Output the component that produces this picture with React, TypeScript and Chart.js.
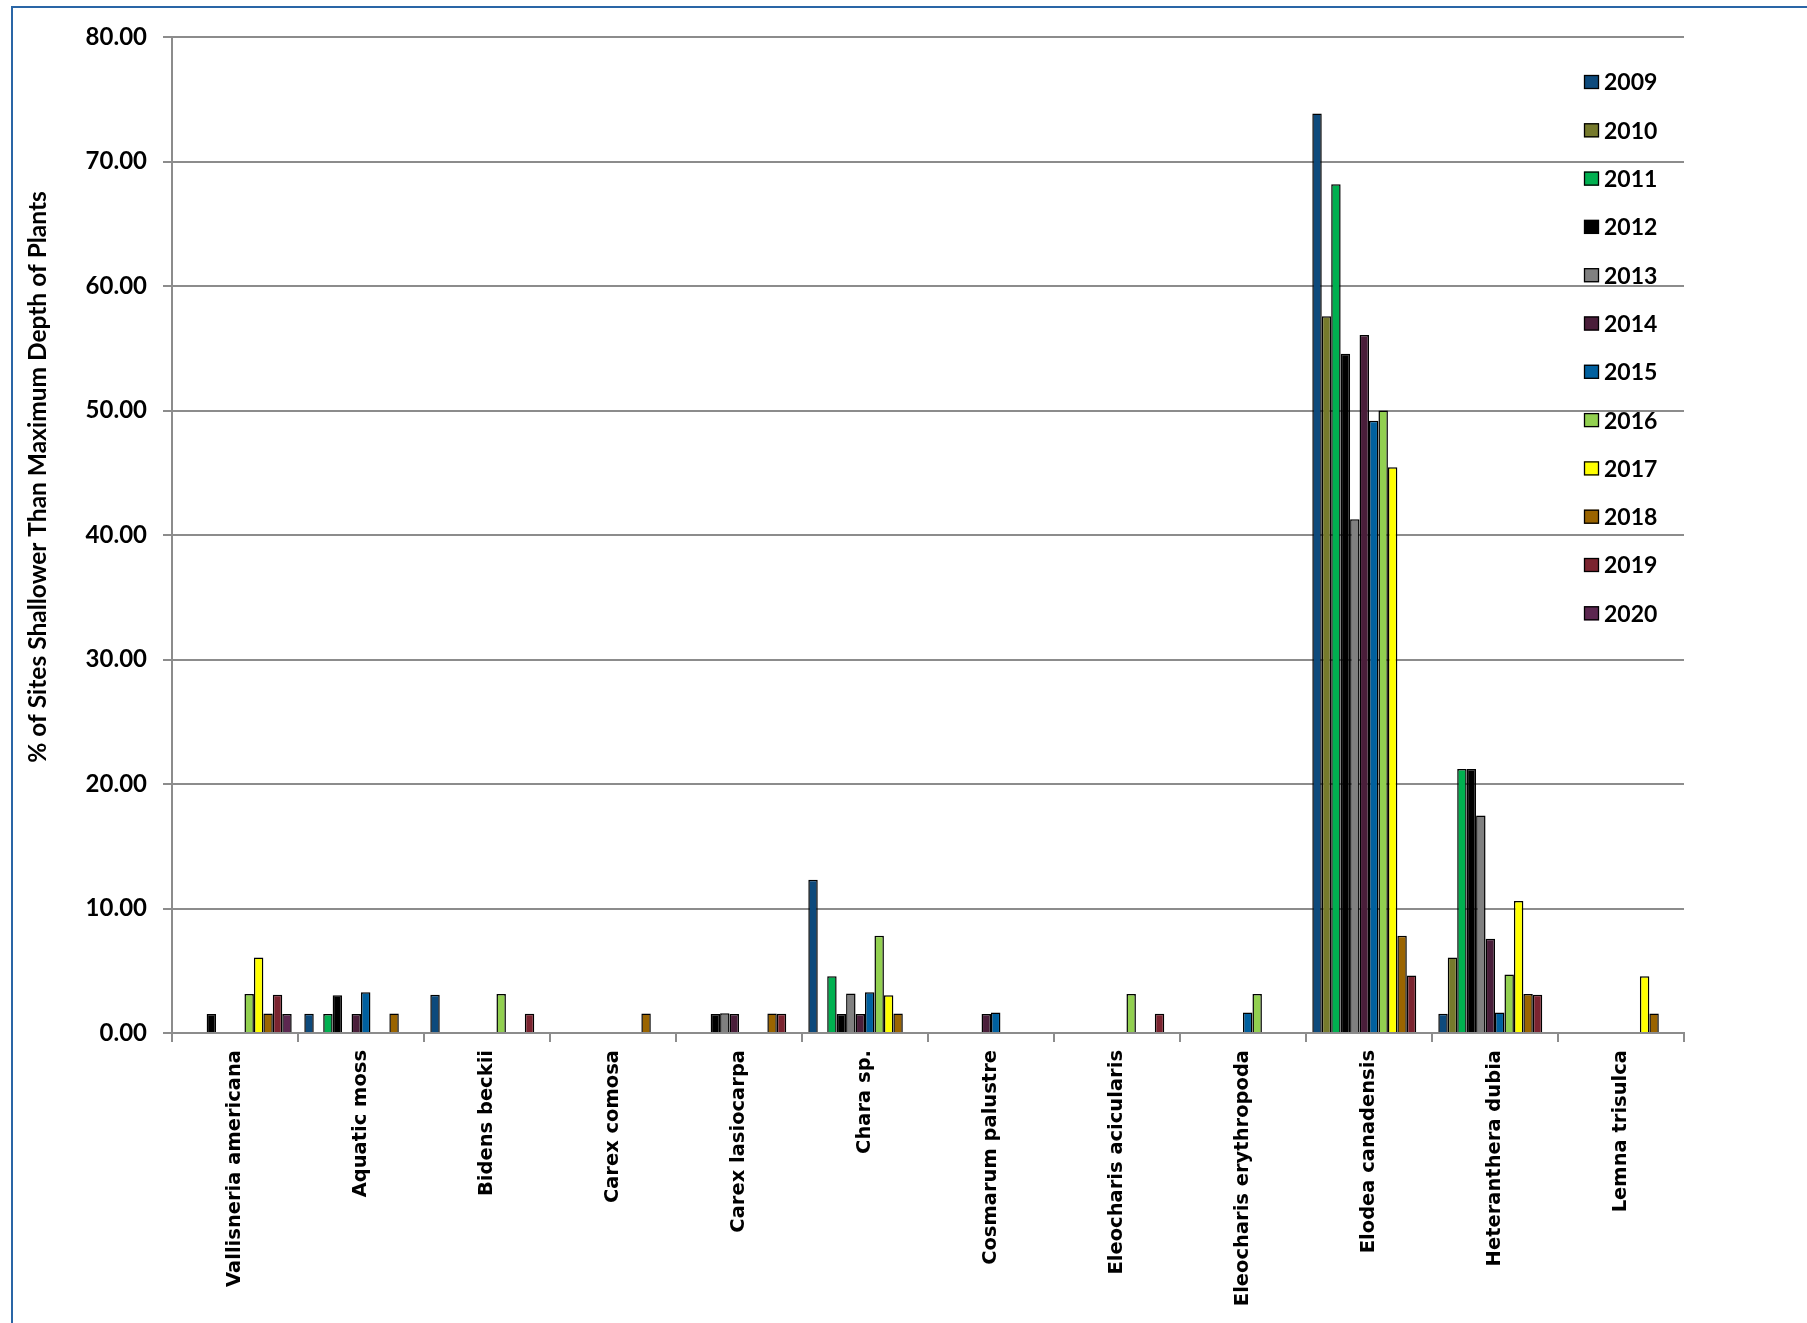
import React, { useEffect, useRef } from "react";
import { Chart, registerables } from "chart.js";

Chart.register(...registerables);

const categories = [
  "Vallisneria americana",
  "Aquatic moss",
  "Bidens beckii",
  "Carex comosa",
  "Carex lasiocarpa",
  "Chara sp.",
  "Cosmarum palustre",
  "Eleocharis acicularis",
  "Eleocharis erythropoda",
  "Elodea canadensis",
  "Heteranthera dubia",
  "Lemna trisulca",
];

const years = ["2009", "2010", "2011", "2012", "2013", "2014", "2015", "2016", "2017", "2018", "2019", "2020"];

const colors = [
  "#0d4a7c",
  "#767a2c",
  "#00b050",
  "#000000",
  "#808080",
  "#4a1e3a",
  "#00609f",
  "#92d050",
  "#ffff00",
  "#9a6400",
  "#7b2430",
  "#5c2750",
];

const v2009 = [null, 1.54, 3.08, null, null, 12.31, null, null, null, 73.85, 1.54, null];
const v2010 = [null, null, null, null, null, null, null, null, null, 57.58, 6.06, null];
const v2011 = [null, 1.52, null, null, null, 4.55, null, null, null, 68.18, 21.21, null];
const v2012 = [1.52, 3.03, null, null, 1.52, 1.52, null, null, null, 54.55, 21.21, null];
const v2013 = [null, null, null, null, 1.59, 3.17, null, null, null, 41.27, 17.46, null];
const v2014 = [null, 1.52, null, null, 1.52, 1.52, 1.52, null, null, 56.06, 7.58, null];
const v2015 = [null, 3.28, null, null, null, 3.28, 1.64, null, 1.64, 49.18, 1.64, null];
const v2016 = [3.13, null, 3.13, null, null, 7.81, null, 3.13, 3.13, 50.0, 4.69, null];
const v2017 = [6.06, null, null, null, null, 3.03, null, null, null, 45.45, 10.61, 4.55];
const v2018 = [1.56, 1.56, null, 1.56, 1.56, 1.56, null, null, null, 7.81, 3.13, 1.56];
const v2019 = [3.08, null, 1.54, null, 1.54, null, null, 1.54, null, 4.62, 3.08, null];
const v2020 = [1.52, null, null, null, null, null, null, null, null, null, null, null];

const seriesValues = [v2009, v2010, v2011, v2012, v2013, v2014, v2015, v2016, v2017, v2018, v2019, v2020];

const yTicks = [0, 10, 20, 30, 40, 50, 60, 70, 80];

const yTitle = "% of Sites Shallower Than Maximum Depth of Plants";

const W = 1807;
const H = 1323;

const decorPlugin = {
  id: "decor",
  afterDraw(chart: any) {
    const ctx = chart.ctx as CanvasRenderingContext2D;
    const area = chart.chartArea;
    // y axis title
    ctx.save();
    ctx.translate(38, 477);
    ctx.rotate(-Math.PI / 2);
    ctx.font = "bold 24.5px Lato";
    ctx.fillStyle = "#000";
    ctx.textAlign = "center";
    ctx.textBaseline = "middle";
    ctx.fillText(yTitle, 0, 0);
    ctx.restore();

    // legend
    ctx.save();
    const bx = area.right - 100;
    const y0 = area.top + 45;
    const step = 48.3;
    chart.data.datasets.forEach((ds: any, i: number) => {
      const cy = y0 + i * step;
      ctx.fillStyle = ds.backgroundColor;
      ctx.fillRect(bx, cy - 7, 15, 14);
      ctx.strokeStyle = "#000";
      ctx.lineWidth = 1.3;
      ctx.strokeRect(bx + 0.5, cy - 6.5, 14, 13);
      ctx.fillStyle = "#000";
      ctx.font = "bold 23px Lato";
      ctx.textAlign = "left";
      ctx.textBaseline = "middle";
      ctx.fillText(ds.label, bx + 20, cy + 1);
    });
    ctx.restore();
  },
};

export default function App() {
  const ref = useRef<HTMLCanvasElement>(null);

  useEffect(() => {
    const canvas = ref.current!;
    const datasets = seriesValues.map((vals, i) => ({
      label: years[i],
      data: vals,
      backgroundColor: colors[i],
      borderColor: "#000000",
      borderWidth: 1.5,
      categoryPercentage: 0.9,
      barPercentage: 1.0,
    }));

    const chart = new Chart(canvas, {
      type: "bar",
      data: { labels: categories, datasets: datasets as any },
      options: {
        responsive: false,
        animation: false,
        devicePixelRatio: 1,
        layout: { padding: { left: 0, right: 123, top: 37, bottom: 0 } },
        plugins: {
          legend: { display: false },
          tooltip: { enabled: false },
        },
        scales: {
          x: {
            grid: {
              display: true,
              drawOnChartArea: false,
              drawTicks: true,
              tickLength: 9,
              color: "#8c8c8c",
              lineWidth: 2,
              offset: true,
            },
            border: { display: true, color: "#8c8c8c", width: 2 },
            ticks: {
              minRotation: 90,
              maxRotation: 90,
              autoSkip: false,
              padding: 8,
              color: "#000",
              font: { family: "DejaVu Sans", weight: "bold", size: 19.5 },
            },
            afterFit: (s: any) => {
              s.height = H - 1033;
            },
          },
          y: {
            min: 0,
            max: 80,
            afterBuildTicks: (s: any) => {
              s.ticks = yTicks.map((v) => ({ value: v }));
            },
            ticks: {
              callback: (v: any) => Number(v).toFixed(2),
              padding: 16,
              color: "#000",
              font: { family: "Lato", weight: "bold", size: 24 },
            },
            grid: { color: "#8c8c8c", lineWidth: 2, tickLength: 9 },
            border: { display: true, color: "#8c8c8c", width: 2 },
            afterFit: (s: any) => {
              s.width = 172;
            },
          },
        },
      },
      plugins: [decorPlugin],
    });
    return () => chart.destroy();
  }, []);

  return (
    <div style={{ position: "fixed", left: 0, top: 0, width: W, height: H, overflow: "hidden", background: "#fff" }}>
      <div
        style={{
          position: "absolute",
          left: 11,
          top: 6,
          width: 2000,
          height: 2000,
          border: "2px solid #2a66a6",
          boxSizing: "border-box",
        }}
      />
      <canvas
        ref={ref}
        width={W}
        height={H}
        style={{ position: "absolute", left: 0, top: 0, width: W, height: H, display: "block" }}
      />
    </div>
  );
}
